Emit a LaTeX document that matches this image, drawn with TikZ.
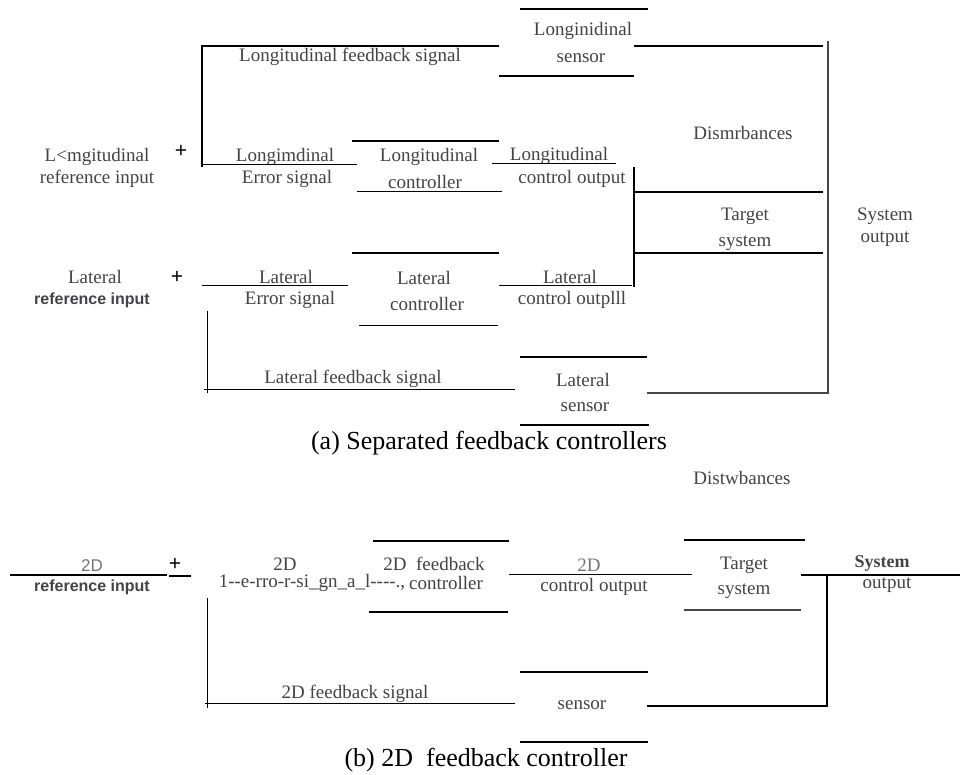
\documentclass[tikz,border=0pt]{standalone}
\usepackage{fontspec}
\setmainfont{Liberation Serif}
\setsansfont{Liberation Sans}
\definecolor{txtgray}{RGB}{66,66,72}
\definecolor{ltgray}{RGB}{115,115,115}
\definecolor{lngray}{RGB}{70,70,70}
\tikzset{
  lbl/.style={font=\fontsize{19}{22}\selectfont, text=txtgray, inner sep=0pt},
  refin/.style={font=\sffamily\bfseries\fontsize{16}{19}\selectfont, text=txtgray, inner sep=0pt},
  sumplus/.style={font=\sffamily\fontsize{21}{24}\selectfont, inner sep=0pt},
  capt/.style={font=\fontsize{26}{30}\selectfont, inner sep=0pt},
  thk/.style={line width=2pt},
  thn/.style={line width=1pt},
  mid/.style={line width=1.4pt},
}
\begin{document}
\begin{tikzpicture}[x=1pt, y=-1pt]
    \useasboundingbox (0,0) rectangle (960,775);

    % (a) separated feedback controllers
    \node[lbl] (lofb) at (350,57) {Longitudinal feedback signal};
    \node[lbl] (losens1) at (583,31) {Longinidinal};
    \node[lbl] (losens2) at (581,58) {sensor};
    \node[lbl] (loref1) at (97,157) {L<mgitudinal};
    \node[lbl] (loref2) at (97,179) {reference input};
    \node[sumplus] (loplus) at (181,151) {+};
    \node[lbl] (loerr1) at (285,157) {Longimdinal};
    \node[lbl] (loerr2) at (287,179) {Error signal};
    \node[lbl] (loctrl1) at (429,157) {Longitudinal};
    \node[lbl] (loctrl2) at (425,182) {controller};
    \node[lbl] (loout1) at (559,156) {Longitudinal};
    \node[lbl] (loout2) at (572,179) {control output};
    \node[lbl] (adist) at (743,133) {Dismrbances};
    \node[lbl] (atgt1) at (745,216) {Target};
    \node[lbl] (atgt2) at (745,243) {system};
    \node[lbl] (asys1) at (885,216) {System};
    \node[lbl] (asys2) at (885,239) {output};
    \node[lbl] (laref1) at (95,277) {Lateral};
    \node[refin] (laref2) at (92,300) {reference input};
    \node[sumplus] (laplus) at (177,277) {+};
    \node[lbl] (laerr1) at (286,277) {Lateral};
    \node[lbl] (laerr2) at (290,300) {Error signal};
    \node[lbl] (lactrl1) at (424,278) {Lateral};
    \node[lbl] (lactrl2) at (427,304) {controller};
    \node[lbl] (laout1) at (570,277) {Lateral};
    \node[lbl] (laout2) at (572,300) {control outplll};
    \node[lbl] (lafb) at (353,379) {Lateral feedback signal};
    \node[lbl] (lasens1) at (583,380) {Lateral};
    \node[lbl] (lasens2) at (585,407) {sensor};
    \node[capt] (capa) at (489,443) {(a) Separated feedback controllers};

    \coordinate (lojoin) at (202,46);
    \coordinate (merge) at (634,192);
    \coordinate (aout) at (828,41);
    \draw[thk] (202,167) -- (lojoin) -- (499,46);
    \draw[thn] (202,165) -- (357,165);
    \draw[thk] (352,141) -- (499,141);
    \draw[thn] (357,192) -- (502,192);
    \draw[thn] (492,164) -- (616,164);
    \draw[mid] (520,9) -- (648,9);
    \draw[thk] (499,76) -- (634,76);
    \draw[thk] (634,46) -- (823,46);
    \draw[thk] (634,167) -- (634,287);
    \draw[thk] (merge) -- (823,192);
    \draw[thk] (634,253) -- (823,253);
    \draw[mid, lngray] (aout) -- (828,393) -- (647,393);
    \draw[thn] (202,286) -- (348,286);
    \draw[thk] (352,253) -- (499,253);
    \draw[thn] (359,325) -- (498,325);
    \draw[thn] (499,286) -- (632,286);
    \draw[thn] (207,311) -- (207,393);
    \draw[thn] (204,389) -- (515,389);
    \draw[mid] (520,357) -- (647,357);
    \draw[mid] (520,425) -- (649,425);

    % (b) 2D feedback controller
    \node[lbl] (bdist) at (742,478) {Distwbances};
    \node[font=\sffamily\fontsize{17}{20}\selectfont, text=ltgray, inner sep=0pt] (bref1) at (92,566) {2D};
    \node[refin] (bref2) at (92,587) {reference input};
    \node[sumplus] (bplus) at (175,564) {+};
    \node[lbl] (berr1) at (285,564) {2D};
    \node[lbl] (berr2) at (312,583) {1-{}-e-rro-r-si\_gn\_a\_l-{}-{}-{}-.,};
    \node[lbl] (bctrl1) at (434,564) {2D~~feedback};
    \node[lbl] (bctrl2) at (446,583) {controller};
    \node[lbl, text=ltgray] (bout1) at (589,565) {2D};
    \node[lbl] (bout2) at (594,587) {control output};
    \node[lbl] (btgt1) at (744,565) {Target};
    \node[lbl] (btgt2) at (744,591) {system};
    \node[lbl, font=\bfseries\fontsize{18}{21}\selectfont] (bsys1) at (882,563) {System};
    \node[lbl] (bsys2) at (887,585) {output};
    \node[lbl] (bsens) at (582,705) {sensor};
    \node[lbl] (bfb) at (355,694) {2D feedback signal};
    \node[capt] (capb) at (486,760) {(b) 2D~~feedback controller};

    \coordinate (bjoin) at (827,575);
    \draw[thk] (10,575) -- (167,575);
    \draw[thk] (169,576) -- (191,576);
    \draw[mid] (373,541) -- (509,541);
    \draw[mid] (369,612) -- (508,612);
    \draw[thn] (509,574) -- (692,574);
    \draw[mid] (684,540) -- (805,540);
    \draw[thk, lngray] (684,610) -- (801,610);
    \draw[mid] (801,575) -- (960,575);
    \draw[mid] (bjoin) -- (827,707);
    \draw[thk] (647,706) -- (827,706);
    \draw[mid] (520,672) -- (648,672);
    \draw[mid] (520,742) -- (648,742);
    \draw[thn] (207,598) -- (207,708);
    \draw[thn] (205,703) -- (515,703);
\end{tikzpicture}
\end{document}
